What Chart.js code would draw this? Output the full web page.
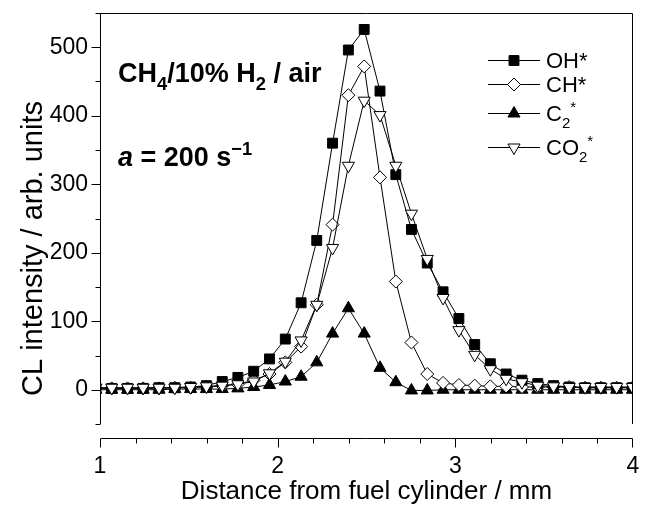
<!DOCTYPE html>
<html>
<head>
<meta charset="utf-8">
<script src="https://cdn.jsdelivr.net/npm/chart.js@4.4.0/dist/chart.umd.min.js"></script>
<style>
  html, body { margin: 0; padding: 0; background: #fff; }
  #wrap { width: 645px; height: 505px; }
</style>
</head>
<body>
<div id="wrap"><canvas id="clChart" width="645" height="505"></canvas></div>
<script>
// distance from fuel cylinder (mm), shared by all four profiles
const distance = [0.977, 1.066, 1.155, 1.243, 1.332, 1.421, 1.510, 1.599, 1.688, 1.776,
                  1.865, 1.954, 2.043, 2.132, 2.220, 2.309, 2.398, 2.487, 2.576, 2.665,
                  2.753, 2.842, 2.931, 3.020, 3.109, 3.197, 3.286, 3.375, 3.464, 3.553,
                  3.641, 3.730, 3.819, 3.908, 3.997];

const ohValues  = [2, 2, 2, 2, 3, 3, 4, 6, 12, 18, 27, 45, 74, 127, 218, 360, 496, 526, 436, 314,
                   234, 185, 143, 104, 66, 38, 23, 14, 9, 6, 4, 3, 3, 3, 3];
const chValues  = [2, 2, 2, 2, 2, 3, 3, 4, 6, 8, 14, 23, 40, 63, 124, 241, 430, 472, 310, 158,
                   69, 23, 10, 7, 6, 5, 5, 4, 4, 4, 4, 3, 3, 3, 3];
const c2Values  = [0, 0, 0, 0, 0, 1, 1, 1, 1, 2, 4, 7, 12, 19, 40, 82, 119, 82, 32, 11,
                   -1, -1, 0, 0, 0, 0, 0, 0, 0, 0, 0, 0, 0, 0, 0];
const co2Values = [3, 3, 3, 3, 3, 3, 4, 5, 6, 8, 12, 24, 41, 72, 124, 207, 327, 422, 401, 327,
                   257, 191, 134, 87, 51, 30, 16, 11, 6, 5, 4, 4, 4, 4, 4];

const seriesNames = ['OH*', 'CH*', 'C₂*', 'CO₂*'];
const xTicks = [1, 2, 3, 4];
const yTicks = [0, 100, 200, 300, 400, 500];
const yTitle = 'CL intensity / arb. units';

const FONT = "'Liberation Sans', Arial, Helvetica, sans-serif";

function toPoints(values) {
    return values.map((v, i) => ({ x: distance[i], y: v }));
}

function makeSeries(label, values, style, rotation, fill, radius, order) {
    return {
        label,
        data: toPoints(values),
        borderColor: '#000',
        borderWidth: 1,
        tension: 0,
        pointStyle: style,
        rotation,
        pointRadius: radius,
        pointBackgroundColor: fill,
        pointBorderColor: '#000',
        pointBorderWidth: 1,
        order
    };
}

// split "C₂*" style labels into runs: normal / sub / sup
function parseLabel(text) {
    const runs = [];
    let lastSub = false;
    for (const ch of text) {
        if (ch === '₂' || ch === '₄') {
            runs.push([ch === '₂' ? '2' : '4', 'sub']);
            lastSub = true;
        } else if (ch === '*' && lastSub) {
            runs.push(['*', 'sup']);
        } else {
            runs.push([ch, 'n']);
            lastSub = false;
        }
    }
    return runs;
}

function drawRuns(ctx, x, y, runs, size, weight) {
    ctx.save();
    ctx.textBaseline = 'alphabetic';
    ctx.textAlign = 'left';
    ctx.fillStyle = '#000';
    for (const [txt, mode] of runs) {
        let s = size, dy = 0, style = '';
        if (mode === 'sub') { s = size * 0.68; dy = size * 0.3; }
        if (mode === 'sup') { s = size * 0.68; dy = -size * 0.42; }
        if (mode === 'i') style = 'italic ';
        ctx.font = `${style}${weight} ${s}px ${FONT}`;
        ctx.fillText(txt, x, y + dy);
        x += ctx.measureText(txt).width;
    }
    ctx.restore();
}

function drawMarker(ctx, ds, x, y) {
    const r = ds.pointRadius;
    ctx.save();
    ctx.beginPath();
    if (ds.pointStyle === 'rect') {
        const h = r * Math.SQRT1_2;
        ctx.rect(x - h, y - h, 2 * h, 2 * h);
    } else if (ds.pointStyle === 'rectRot') {
        ctx.moveTo(x, y - r); ctx.lineTo(x + r, y); ctx.lineTo(x, y + r); ctx.lineTo(x - r, y);
        ctx.closePath();
    } else {
        let rad = (ds.rotation || 0) * Math.PI / 180;
        for (let i = 0; i < 3; i++) {
            const px = x + Math.sin(rad) * r, py = y - Math.cos(rad) * r;
            if (i === 0) ctx.moveTo(px, py); else ctx.lineTo(px, py);
            rad += 2 * Math.PI / 3;
        }
        ctx.closePath();
    }
    ctx.fillStyle = ds.pointBackgroundColor;
    ctx.fill();
    ctx.lineWidth = 1;
    ctx.strokeStyle = '#000';
    ctx.stroke();
    ctx.restore();
}

// scales add their tick padding to the layout padding; drop it so the plot area is fixed
function noScalePadding(s) {
    s.paddingLeft = 0;
    s.paddingRight = 0;
    s.paddingTop = 0;
    s.paddingBottom = 0;
}

const framePlugin = {
    id: 'originFrame',
    afterDraw(chart) {
        const { ctx, chartArea: a, scales } = chart;
        const xs = scales.x, ys = scales.y;
        const L = Math.round(a.left) + 0.5, R = Math.round(a.right) - 0.5;
        const T = Math.round(a.top) + 0.5, B = Math.round(a.bottom);
        ctx.save();
        ctx.strokeStyle = '#000';
        ctx.lineWidth = 1;
        ctx.beginPath();
        ctx.moveTo(L, B); ctx.lineTo(L, T); ctx.lineTo(R, T); ctx.lineTo(R, B);
        // y ticks, major every 100, minor every 50
        for (let v = ys.min; v <= ys.max; v += 50) {
            const py = Math.round(ys.getPixelForValue(v)) + 0.5;
            const len = v % 100 === 0 ? 9 : 5;
            ctx.moveTo(L - len, py); ctx.lineTo(L, py);
        }
        // detached x axis below the frame
        const ax = B + 14.5;
        ctx.moveTo(L, ax); ctx.lineTo(R, ax);
        for (let i = 0; i <= 15; i++) {
            const v = xs.min + i * 0.2;
            const px = Math.round(xs.getPixelForValue(v)) + (i === 15 ? -0.5 : 0.5);
            const len = i % 5 === 0 ? 9 : 5;
            ctx.moveTo(px, ax); ctx.lineTo(px, ax + len);
        }
        ctx.stroke();

        // y title sits a bit low, as in the original figure
        ctx.save();
        ctx.translate(34, 396);
        ctx.rotate(-Math.PI / 2);
        ctx.textAlign = 'left';
        ctx.textBaseline = 'middle';
        ctx.fillStyle = '#000';
        ctx.font = `29px ${FONT}`;
        ctx.fillText(yTitle, 0, 0);
        ctx.restore();

        // legend
        const rows = [60, 84, 113, 147];
        chart.data.datasets.forEach((ds, i) => {
            const y = rows[i];
            ctx.beginPath();
            ctx.moveTo(488, y + 0.5); ctx.lineTo(540, y + 0.5);
            ctx.stroke();
            drawMarker(ctx, ds, 514, y + 0.5);
            drawRuns(ctx, 546, y + 8, parseLabel(ds.label), 22, 'normal');
        });

        // annotations
        drawRuns(ctx, 118, 82, [['CH', 'n'], ['4', 'sub'], ['/10% H', 'n'], ['2', 'sub'], [' / air', 'n']], 27, 'bold');
        drawRuns(ctx, 118, 166, [['a', 'i'], [' = 200 s', 'n'], ['\u22121', 'sup']], 27, 'bold');
        ctx.restore();
    }
};

const ctx = document.getElementById('clChart').getContext('2d');
new Chart(ctx, {
    type: 'line',
    data: {
        datasets: [
            makeSeries(seriesNames[0], ohValues, 'rect', 0, '#000', 7, 1),
            makeSeries(seriesNames[1], chValues, 'rectRot', 0, '#fff', 6.5, 2),
            makeSeries(seriesNames[2], c2Values, 'triangle', 0, '#000', 7, 3),
            makeSeries(seriesNames[3], co2Values, 'triangle', 180, '#fff', 7, 0)
        ]
    },
    options: {
        responsive: false,
        devicePixelRatio: 1,
        animation: false,
        layout: { autoPadding: false, padding: { top: 13, right: 12, left: 0, bottom: 0 } },
        plugins: { legend: { display: false }, tooltip: { enabled: false } },
        scales: {
            x: {
                type: 'linear',
                min: 1,
                max: 4,
                afterBuildTicks: s => { s.ticks = xTicks.map(v => ({ value: v })); },
                afterFit: s => { s.height = 81; noScalePadding(s); },
                grid: { display: true, drawOnChartArea: false, drawTicks: false },
                border: { display: false },
                ticks: { color: '#000', padding: 31, maxRotation: 0, font: { family: FONT, size: 23, lineHeight: 1 } },
                title: {
                    display: true,
                    text: 'Distance from fuel cylinder / mm',
                    color: '#000',
                    padding: { top: 0, bottom: 0 },
                    font: { family: FONT, size: 26, lineHeight: 1 }
                }
            },
            y: {
                min: -50,
                max: 550,
                afterBuildTicks: s => { s.ticks = yTicks.map(v => ({ value: v })); },
                afterFit: s => { s.width = 100; noScalePadding(s); },
                grid: { display: true, drawOnChartArea: false, drawTicks: false },
                border: { display: false },
                ticks: { color: '#000', padding: 12, font: { family: FONT, size: 23, lineHeight: 1 } },
                title: { display: false }
            }
        }
    },
    plugins: [framePlugin]
});
</script>
</body>
</html>
